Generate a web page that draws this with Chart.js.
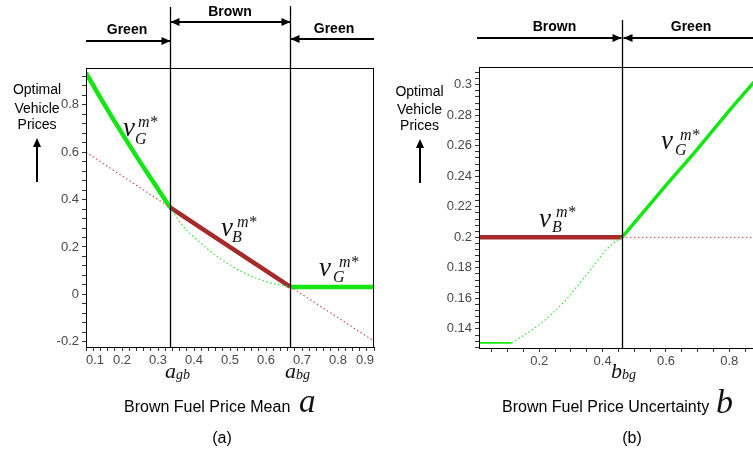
<!DOCTYPE html>
<html>
<head>
<meta charset="utf-8">
<script src="https://cdn.jsdelivr.net/npm/chart.js@4/dist/chart.umd.min.js"></script>
<style>
  html,body{margin:0;padding:0;background:#fff;}
  body{width:753px;height:453px;overflow:hidden;position:relative;font-family:"Liberation Sans",Arial,sans-serif;}
  canvas{position:absolute;top:0;}
  .t{position:absolute;white-space:nowrap;line-height:1;color:#000;}
  .c{transform:translate(-50%,-50%);}
  .b{font-weight:bold;font-size:14px;}
  .yl{font-size:14px;}
  .m{position:absolute;white-space:nowrap;line-height:1;font-family:"Liberation Serif","DejaVu Serif",serif;font-style:italic;color:#111;}
</style>
</head>
<body>
<canvas id="left" width="380" height="453" style="left:0"></canvas>
<canvas id="right" width="390" height="453" style="left:380px"></canvas>

<!-- left panel texts -->
<div class="t c b" style="left:127px;top:29px">Green</div>
<div class="t c b" style="left:230px;top:11px">Brown</div>
<div class="t c b" style="left:334px;top:27.5px">Green</div>
<div class="t c yl" style="left:37px;top:89px">Optimal</div>
<div class="t c yl" style="left:37px;top:107.5px">Vehicle</div>
<div class="t c yl" style="left:37px;top:124px">Prices</div>

<span class="m" style="left:123px;top:114px;font-size:27px">v</span>
<span class="m" style="left:138px;top:114px;font-size:16px">m*</span>
<span class="m" style="left:135px;top:130.5px;font-size:16px">G</span>

<span class="m" style="left:221px;top:214px;font-size:27px">v</span>
<span class="m" style="left:237px;top:213.5px;font-size:16px">m*</span>
<span class="m" style="left:232px;top:228.5px;font-size:16px">B</span>

<span class="m" style="left:319px;top:254px;font-size:27px">v</span>
<span class="m" style="left:339px;top:253.5px;font-size:16px">m*</span>
<span class="m" style="left:333px;top:268.5px;font-size:16px">G</span>

<span class="m" style="left:165px;top:359.5px;font-size:22px">a</span>
<span class="m" style="left:176px;top:368px;font-size:14px">gb</span>
<span class="m" style="left:285px;top:359.5px;font-size:22px">a</span>
<span class="m" style="left:296px;top:368px;font-size:14px">bg</span>

<div class="t" style="left:124px;top:399px;font-size:16px">Brown Fuel Price Mean</div>
<span class="m" style="left:299px;top:385px;font-size:33px">a</span>
<div class="t c" style="left:222px;top:438px;font-size:16px">(a)</div>

<!-- right panel texts -->
<div class="t c b" style="left:554.5px;top:26px">Brown</div>
<div class="t c b" style="left:691px;top:26px">Green</div>
<div class="t c yl" style="left:419.5px;top:91px">Optimal</div>
<div class="t c yl" style="left:419.5px;top:108.5px">Vehicle</div>
<div class="t c yl" style="left:419.5px;top:125px">Prices</div>

<span class="m" style="left:539px;top:205px;font-size:27px">v</span>
<span class="m" style="left:556px;top:203.5px;font-size:16px">m*</span>
<span class="m" style="left:552px;top:218.5px;font-size:16px">B</span>

<span class="m" style="left:661px;top:127px;font-size:27px">v</span>
<span class="m" style="left:680px;top:126.5px;font-size:16px">m*</span>
<span class="m" style="left:675px;top:141.5px;font-size:16px">G</span>

<span class="m" style="left:611px;top:359.5px;font-size:22px">b</span>
<span class="m" style="left:622px;top:368px;font-size:14px">bg</span>

<div class="t" style="left:502px;top:399px;font-size:16px">Brown Fuel Price Uncertainty</div>
<span class="m" style="left:716px;top:384.5px;font-size:34px">b</span>
<div class="t c" style="left:632px;top:438px;font-size:16px">(b)</div>

<script>
// ---------------- DATA ----------------
// Panel (a): x = Brown fuel price mean a
const aGB = 0.3333, aBG = 0.6667;
const aGreenSolid  = [0.1, 0.15, 0.2, 0.25, 0.3, 0.3333];
const vGreenSolid  = [0.934, 0.804, 0.679, 0.559, 0.444, 0.367];
const aGreenDotted = [0.3333, 0.37, 0.407, 0.463, 0.537, 0.611, 0.6667];
const vGreenDotted = [0.367, 0.287, 0.232, 0.162, 0.092, 0.049, 0.033];
const aGreenFlat   = [0.6667, 0.9];
const vGreenFlat   = [0.031, 0.031];
const aRedDotted1  = [0.1, 0.3333];
const vRedDotted1  = [0.6, 0.367];
const aRedSolid    = [0.3333, 0.6667];
const vRedSolid    = [0.367, 0.033];
const aRedDotted2  = [0.6667, 0.9];
const vRedDotted2  = [0.033, -0.197];
const leftXMajor = [0.1, 0.2, 0.3, 0.4, 0.5, 0.6, 0.7, 0.8, 0.9];
const leftYMajor = [-0.2, 0, 0.2, 0.4, 0.6, 0.8];

// Panel (b): x = Brown fuel price uncertainty b
const bBG = 0.461;
const bGreenFlat   = [0.01, 0.113];
const wGreenFlat   = [0.1308, 0.1308];
const bGreenDotted = [0.113, 0.2, 0.284, 0.358, 0.421, 0.461];
const wGreenDotted = [0.1308, 0.1428, 0.159, 0.1778, 0.1938, 0.2];
const bGreenSolid  = [0.461, 0.6, 0.7, 0.8, 0.9];
const wGreenSolid  = [0.2, 0.234, 0.258, 0.283, 0.307];
const bRedSolid    = [0.01, 0.461];
const wRedSolid    = [0.2, 0.2];
const bRedDotted   = [0.461, 0.9];
const wRedDotted   = [0.2, 0.2];
const rightXMajor = [0.2, 0.4, 0.6, 0.8];
const rightYMajor = [0.14, 0.16, 0.18, 0.2, 0.22, 0.24, 0.26, 0.28, 0.3];

// ---------------- helpers ----------------
const pts = (xs, ys) => xs.map((x, i) => ({x, y: ys[i]}));
const GREEN = '#14e614', RED = '#a52a2a', RED_DOT = '#cc5555', GREEN_DOT = '#2ee62e';
function thick(data, color, w) {
  return {data, borderColor: color, borderWidth: w, pointRadius: 0, borderCapStyle: 'butt',
          cubicInterpolationMode: 'monotone', fill: false};
}
function dotted(data, color) {
  return {data, borderColor: color, borderWidth: 1.2, borderDash: [1.5, 2.5], pointRadius: 0,
          cubicInterpolationMode: 'monotone', fill: false};
}
function minorTicks(min, max, step) {
  const out = [];
  const k0 = Math.ceil(min / step - 1e-9), k1 = Math.floor(max / step + 1e-9);
  for (let k = k0; k <= k1; k++) out.push({value: Math.round(k * step * 1e6) / 1e6});
  return out;
}
const isMajor = (v, majors) => majors.some(m => Math.abs(m - v) < 1e-6);
function fmt(v) { return String(Math.round(v * 100) / 100); }

function arrowHead(ctx, x, y, dir) {
  const L = 9, H = 4;
  ctx.beginPath();
  ctx.moveTo(x, y);
  if (dir === 'right') { ctx.lineTo(x - L, y - H); ctx.lineTo(x - L, y + H); }
  if (dir === 'left')  { ctx.lineTo(x + L, y - H); ctx.lineTo(x + L, y + H); }
  if (dir === 'up')    { ctx.lineTo(x - H, y + L); ctx.lineTo(x + H, y + L); }
  ctx.closePath(); ctx.fill();
}
function hArrow(ctx, x1, x2, y, heads) {
  ctx.lineWidth = 2;
  ctx.beginPath(); ctx.moveTo(x1, y); ctx.lineTo(x2, y); ctx.stroke();
  heads.forEach(h => arrowHead(ctx, h[0], y, h[1]));
}
function upArrow(ctx, x, yb, yt) {
  ctx.lineWidth = 2;
  ctx.beginPath(); ctx.moveTo(x, yb); ctx.lineTo(x, yt + 6); ctx.stroke();
  arrowHead(ctx, x, yt, 'up');
}

function axis(min, max, step, majors, isX, width, align) {
  const o = {
    type: 'linear', min, max, bounds: 'data',
    grid: {display: true, drawOnChartArea: false, drawTicks: true, tickLength: 4, color: '#000', tickColor: '#333'},
    border: {display: true, color: '#000', width: 1},
    afterBuildTicks: s => { s.ticks = minorTicks(min, max, step); },
    ticks: {autoSkip: false, maxRotation: 0, minRotation: 0, padding: isX ? 2 : 3,
            color: '#484848', font: {family: 'Liberation Sans', size: 13},
            callback: v => isMajor(v, majors) ? fmt(v) : ''},
    afterFit: s => { if (isX) s.height = width; else s.width = width; }
  };
  if (align) o.ticks.align = align;
  return o;
}

const basePlugins = {legend: {display: false}, tooltip: {enabled: false}};

// ---------------- left chart ----------------
const leftPlugin = {
  id: 'leftDeco',
  afterDraw(chart) {
    const ctx = chart.ctx, ca = chart.chartArea, xs = chart.scales.x;
    ctx.save();
    ctx.strokeStyle = '#000'; ctx.fillStyle = '#000';
    ctx.lineWidth = 1;
    ctx.strokeRect(ca.left + 0.5, ca.top + 0.5, ca.right - ca.left - 1, ca.bottom - ca.top);
    const xg = Math.round(xs.getPixelForValue(aGB)) + 0.5;
    const xb = Math.round(xs.getPixelForValue(aBG)) + 0.5;
    ctx.lineWidth = 1.3;
    ctx.beginPath(); ctx.moveTo(xg, 7); ctx.lineTo(xg, ca.bottom); ctx.stroke();
    ctx.beginPath(); ctx.moveTo(xb, 6); ctx.lineTo(xb, ca.bottom); ctx.stroke();
    hArrow(ctx, ca.left, xg, 41, [[xg, 'right']]);
    hArrow(ctx, xg, xb, 22, [[xg, 'left'], [xb, 'right']]);
    hArrow(ctx, ca.right, xb, 39, [[xb, 'left']]);
    upArrow(ctx, 37, 182, 138);
    ctx.restore();
  }
};

new Chart(document.getElementById('left'), {
  type: 'line',
  data: {datasets: [
    dotted(pts(aRedDotted1, vRedDotted1), RED_DOT),
    dotted(pts(aRedDotted2, vRedDotted2), RED_DOT),
    dotted(pts(aGreenDotted, vGreenDotted), GREEN_DOT),
    thick(pts(aRedSolid, vRedSolid), RED, 4.5),
    thick(pts(aGreenSolid, vGreenSolid), GREEN, 4.5),
    thick(pts(aGreenFlat, vGreenFlat), GREEN, 4.5)
  ]},
  options: {
    responsive: false, animation: false, devicePixelRatio: 1,
    layout: {padding: {top: 68, right: 6, left: 0, bottom: 0}},
    plugins: basePlugins,
    scales: {
      x: axis(0.1, 0.9, 0.02, leftXMajor, true, 106, 'inner'),
      y: axis(-0.222, 0.955, 0.04, leftYMajor, false, 86)
    }
  },
  plugins: [leftPlugin]
});

// ---------------- right chart ----------------
const rightPlugin = {
  id: 'rightDeco',
  afterDraw(chart) {
    const ctx = chart.ctx, ca = chart.chartArea, xs = chart.scales.x;
    ctx.save();
    ctx.strokeStyle = '#000'; ctx.fillStyle = '#000';
    ctx.lineWidth = 1;
    ctx.strokeRect(ca.left + 0.5, ca.top + 0.5, ca.right - ca.left - 1, ca.bottom - ca.top);
    const xb = Math.round(xs.getPixelForValue(bBG)) + 0.5;
    ctx.lineWidth = 1.3;
    ctx.beginPath(); ctx.moveTo(xb, 20); ctx.lineTo(xb, ca.bottom); ctx.stroke();
    hArrow(ctx, ca.left - 2, xb - 1, 38, [[xb - 1, 'right']]);
    hArrow(ctx, chart.width, xb + 1, 38, [[xb + 1, 'left']]);
    upArrow(ctx, 40, 183, 139);
    ctx.restore();
  }
};

new Chart(document.getElementById('right'), {
  type: 'line',
  data: {datasets: [
    dotted(pts(bRedDotted, wRedDotted), RED_DOT),
    dotted(pts(bGreenDotted, wGreenDotted), GREEN_DOT),
    thick(pts(bGreenFlat, wGreenFlat), GREEN, 1.8),
    thick(pts(bRedSolid, wRedSolid), RED, 4.5),
    thick(pts(bGreenSolid, wGreenSolid), GREEN, 3.5)
  ]},
  options: {
    responsive: false, animation: false, devicePixelRatio: 1,
    layout: {padding: {top: 67, right: 9, left: 0, bottom: 0}},
    plugins: basePlugins,
    scales: {
      x: axis(0.01, 0.9, 0.05, rightXMajor, true, 105),
      y: axis(0.1275, 0.3116, 0.004, rightYMajor, false, 99)
    }
  },
  plugins: [rightPlugin]
});
</script>
</body>
</html>
